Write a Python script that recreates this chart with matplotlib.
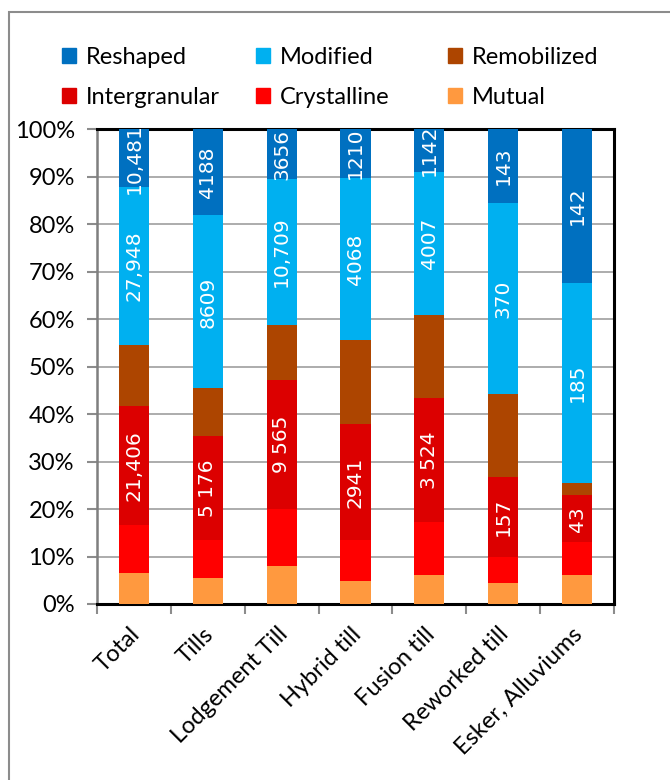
import matplotlib.pyplot as plt
import numpy as np
from matplotlib.patches import Rectangle, Patch
from matplotlib.transforms import ScaledTranslation

plt.rcParams['font.family'] = ['Lato', 'DejaVu Sans']

categories = ['Total', 'Tills', 'Lodgement Till', 'Hybrid till', 'Fusion till',
              'Reworked till', 'Esker, Alluviums']

# share of each type (%), from bottom to top of the bar
mutual = [6.6, 5.4, 7.9, 4.9, 6.2, 4.5, 6.2]
crystalline = [10.1, 8.0, 12.2, 8.5, 11.0, 5.5, 6.8]
intergranular = [25.0, 22.0, 27.0, 24.6, 26.2, 16.7, 9.9]
remobilized = [12.9, 10.0, 11.7, 17.5, 17.4, 17.5, 2.5]
modified = [33.1, 36.4, 30.6, 34.1, 30.2, 40.2, 42.2]
reshaped = [12.3, 18.2, 10.6, 10.4, 9.0, 15.6, 32.4]

# counts written in the bars
intergranular_lbl = ['21,406', '5 176', '9 565', '2941', '3 524', '157', '43']
modified_lbl = ['27,948', '8609', '10,709', '4068', '4007', '370', '185']
reshaped_lbl = ['10,481', '4188', '3656', '1210', '1142', '143', '142']

series = [
    ('Mutual', mutual, '#FF993F', None),
    ('Crystalline', crystalline, '#FF0000', None),
    ('Intergranular', intergranular, '#DC0000', intergranular_lbl),
    ('Remobilized', remobilized, '#AD4500', None),
    ('Modified', modified, '#00B0F0', modified_lbl),
    ('Reshaped', reshaped, '#0070C0', reshaped_lbl),
]
colors = {name: c for name, _, c, _ in series}

fig = plt.figure(figsize=(6.7, 7.8), dpi=100)
ax = fig.add_axes([97/670, 1 - 604/780, 517/670, 475/780])

x = np.arange(len(categories))
bottom = np.zeros(len(categories))
for name, vals, col, lbl in series:
    bars = ax.bar(x, vals, width=0.41, bottom=bottom, color=col, label=name, zorder=3)
    if lbl is not None:
        ax.bar_label(bars, labels=lbl, label_type='center', rotation=90, color='white',
                     fontsize=14.5, family='DejaVu Sans')
    bottom += np.array(vals)

ax.set_xlim(-0.5, len(categories) - 0.5)
ax.set_ylim(0, 100)
ax.set_yticks(np.arange(0, 101, 10))
ax.set_yticklabels([f'{v}%' for v in range(0, 101, 10)], fontsize=17)
ax.yaxis.grid(True, color='#A6A6A6', lw=1.3, zorder=0)

ax.set_xticks(x)
ax.set_xticklabels(categories, rotation=45, ha='right', rotation_mode='anchor', fontsize=17)
ax.set_xticks(np.arange(-0.5, len(categories)), minor=True)
ax.tick_params(axis='x', which='major', length=0, pad=14)
ax.tick_params(axis='x', which='minor', length=7, width=1.5, color='#8C8C8C')
ax.tick_params(axis='y', length=7, width=1.5, color='#8C8C8C', pad=9)
# nudge category names slightly left
for t in ax.get_xticklabels():
    t.set_transform(t.get_transform() + ScaledTranslation(-0.05, 0, fig.dpi_scale_trans))

for s in ['top', 'right', 'bottom']:
    ax.spines[s].set_color('black')
    ax.spines[s].set_linewidth(2.2)
ax.spines['left'].set_color('#7F7F7F')
ax.spines['left'].set_linewidth(1.8)

# legend, 3 columns of 2 rows
cols = [(62, ['Reshaped', 'Intergranular']),
        (256, ['Modified', 'Crystalline']),
        (448, ['Remobilized', 'Mutual'])]
for xp, names in cols:
    handles = [Patch(color=colors[n], label=n) for n in names]
    fig.legend(handles=handles, loc='upper left', bbox_to_anchor=(xp/670, 1 - 47/780),
               frameon=False, fontsize=17, handlelength=0.58, handleheight=0.58,
               handletextpad=0.45, labelspacing=0.8, borderpad=0, borderaxespad=0)

# chart border
fig.patches.append(Rectangle((9/670, -0.1), 1.1, 1.1 - 12/780, transform=fig.transFigure,
                             fill=False, edgecolor='#8C8C8C', lw=1.5))

fig.savefig('out.png', dpi=100)
